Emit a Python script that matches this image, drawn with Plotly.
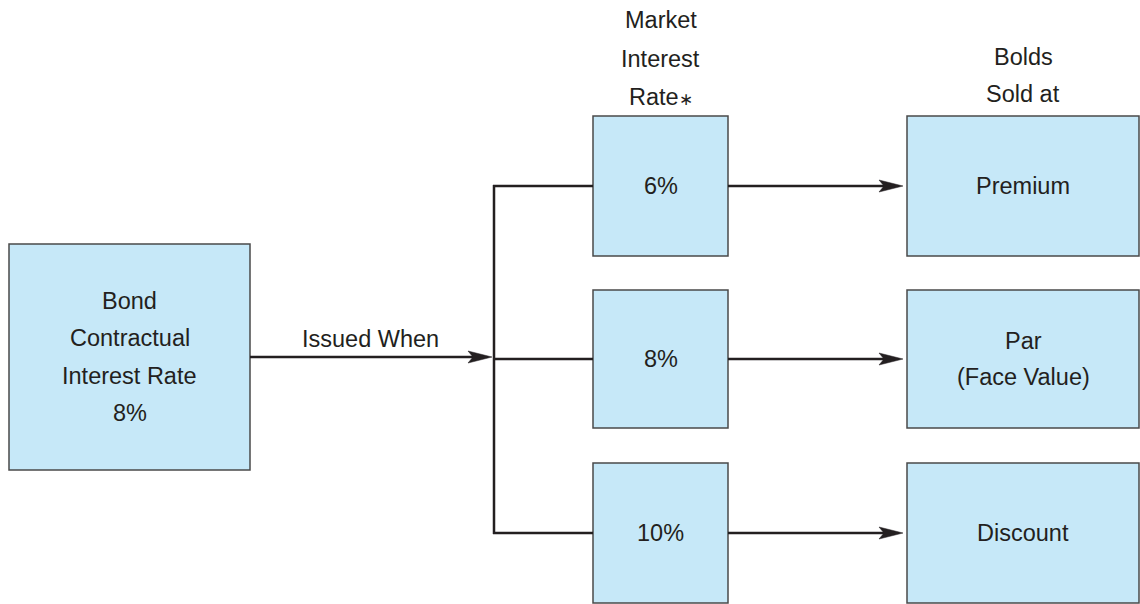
import plotly.graph_objects as go

# ---- content ----
source_lines = ["Bond", "Contractual", "Interest Rate", "8%"]
connector_label = "Issued When"
market_header = ["Market", "Interest", "Rate<span style='font-size:17px'>\u2217</span>"]
market_rates = ["6%", "8%", "10%"]
result_header = ["Bolds", "Sold at"]
results = [["Premium"], ["Par", "(Face Value)"], ["Discount"]]

# ---- geometry (pixel space) ----
W, H = 1140, 604
FILL = "#c6e8f8"
EDGE = "#4a4a4a"
INK = "#231f20"
FS = 23.5
FONT = "Liberation Sans, Arial, sans-serif"

left_box = (9, 244, 250, 470)
mid_x = (593, 728)
right_x = (907, 1139)
rows_y = [(116, 256), (290, 428), (463, 603)]
trunk_x = 494

fig = go.Figure()
shapes = []
annotations = []

def box(x0, y0, x1, y1):
    shapes.append(dict(type="rect", x0=x0, y0=y0, x1=x1, y1=y1, xref="x", yref="y",
                       fillcolor=FILL, line=dict(color=EDGE, width=1.5), layer="below"))

def text(x, y, s):
    annotations.append(dict(x=x, y=y, text=s, showarrow=False, xref="x", yref="y",
                            font=dict(size=FS, color=INK, family=FONT),
                            xanchor="center", yanchor="middle"))

def line(x0, y0, x1, y1):
    shapes.append(dict(type="line", x0=x0, y0=y0, x1=x1, y1=y1, xref="x", yref="y",
                       line=dict(color=INK, width=2.5)))

def arrow(x0, y, x1):
    L, hw, notch = 24, 6, 19
    line(x0, y, x1 - notch, y)
    path = (f"M {x1},{y} L {x1 - L},{y - hw} L {x1 - notch},{y} "
            f"L {x1 - L},{y + hw} Z")
    shapes.append(dict(type="path", path=path, xref="x", yref="y",
                       fillcolor=INK, line=dict(color=INK, width=0.5)))

# left box
box(*left_box)
cy = (left_box[1] + left_box[3]) / 2
lcx = (left_box[0] + left_box[2]) / 2
n = len(source_lines)
for i, s in enumerate(source_lines):
    text(lcx, cy + (i - (n - 1) / 2) * 37.5, s)

# main arrow
arrow(left_box[2], 357, trunk_x - 2)
text(370, 339, connector_label)

# trunk
row_c = [(a + b) / 2 for a, b in rows_y]
line(trunk_x, row_c[0] - 1, trunk_x, row_c[2] + 1)

mcx = sum(mid_x) / 2
rcx = sum(right_x) / 2
for i, (y0, y1) in enumerate(rows_y):
    c = row_c[i]
    line(trunk_x - 1, c, mid_x[0], c)
    box(mid_x[0], y0, mid_x[1], y1)
    text(mcx, c, market_rates[i])
    arrow(mid_x[1], c, right_x[0] - 4)
    box(right_x[0], y0, right_x[1], y1)
    lines = results[i]
    for j, s in enumerate(lines):
        text(rcx, c + (j - (len(lines) - 1) / 2) * 36, s)

# headers
for j, s in enumerate(market_header):
    text(mcx, 20 + j * 38.5, s)
for j, s in enumerate(result_header):
    text(rcx, 57 + j * 37, s)

fig.update_layout(
    width=W, height=H, margin=dict(l=0, r=0, t=0, b=0),
    paper_bgcolor="white", plot_bgcolor="white",
    xaxis=dict(range=[0, W], visible=False, fixedrange=True),
    yaxis=dict(range=[H, 0], visible=False, fixedrange=True),
    shapes=shapes, annotations=annotations, showlegend=False,
)
fig.write_html("out.html", config={"displayModeBar": False},
               post_script="document.body.style.margin='0';document.body.style.overflow='hidden';")
